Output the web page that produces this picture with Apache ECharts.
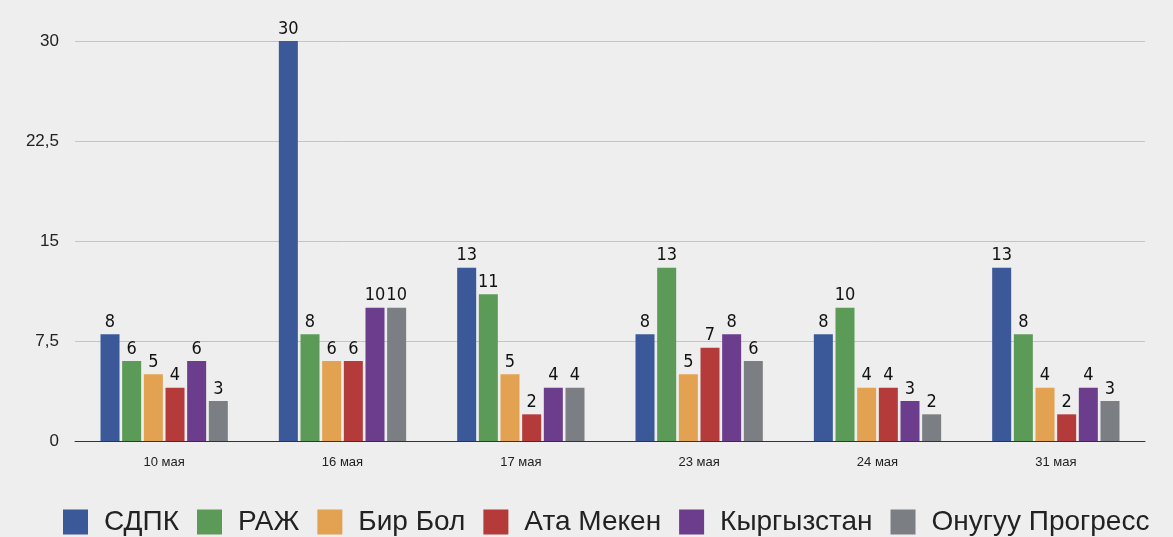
<!DOCTYPE html>
<html>
<head>
<meta charset="utf-8">
<script src="https://cdn.jsdelivr.net/npm/echarts@6/dist/echarts.min.js"></script>
<style>
  html, body { margin: 0; padding: 0; background: #eeeeee; }
  #chart { width: 1173px; height: 537px; }
</style>
</head>
<body>
<div id="chart"></div>
<script>
const categories = ["10 мая", "16 мая", "17 мая", "23 мая", "24 мая", "31 мая"];
const seriesNames = ["СДПК", "РАЖ", "Бир Бол", "Ата Мекен", "Кыргызстан", "Онугуу Прогресс"];
const sdpk = [8, 30, 13, 8, 8, 13];
const raj = [6, 8, 11, 13, 10, 8];
const birBol = [5, 6, 5, 5, 4, 4];
const ataMeken = [4, 6, 2, 7, 4, 2];
const kyrgyzstan = [6, 10, 4, 8, 3, 4];
const onuguu = [3, 10, 4, 6, 2, 3];
const yTicks = [0, 7.5, 15, 22.5, 30];

const seriesValues = [sdpk, raj, birBol, ataMeken, kyrgyzstan, onuguu];
const colors = ["#3b5998", "#5c9a57", "#e3a251", "#b53a3a", "#6b3d8c", "#7b7e82"];

const chart = echarts.init(document.getElementById("chart"));

chart.setOption({
  backgroundColor: "#eeeeee",
  animation: false,
  color: colors,
  grid: {
    left: 75,
    right: 28,
    top: 41,
    bottom: 96,
  },
  legend: {
    bottom: -4,
    left: 58,
    itemWidth: 25,
    itemHeight: 25,
    itemGap: 18,
    icon: "rect",
    textStyle: {
      fontFamily: "Liberation Sans, Arial",
      fontSize: 28,
      color: "#222",
      padding: [0, 0, 0, 11],
    },
    data: seriesNames,
  },
  xAxis: {
    type: "category",
    data: categories,
    axisLine: { lineStyle: { color: "#333", width: 1 } },
    axisTick: { show: false },
    axisLabel: {
      color: "#222",
      fontFamily: "Liberation Sans, Arial",
      fontSize: 13,
      margin: 15,
    },
  },
  yAxis: {
    type: "value",
    min: 0,
    max: 30,
    interval: 7.5,
    axisLine: { show: false },
    axisTick: { show: false },
    axisLabel: {
      color: "#222",
      fontFamily: "Liberation Sans, Arial",
      fontSize: 17,
      margin: 16,
      formatter(value) {
        return yTicks.includes(value) ? String(value).replace(".", ",") : "";
      },
    },
    splitLine: { lineStyle: { color: "#c4c4c4", width: 1 } },
  },
  series: seriesValues.map((values, i) => ({
    name: seriesNames[i],
    type: "bar",
    data: values,
    barWidth: 19,
    barGap: "14%",
    itemStyle: { color: colors[i] },
    label: {
      show: true,
      position: "top",
      distance: 3,
      color: "#111",
      fontFamily: "DejaVu Sans Condensed, Arial",
      fontSize: 18,
    },
  })),
});
</script>
</body>
</html>
